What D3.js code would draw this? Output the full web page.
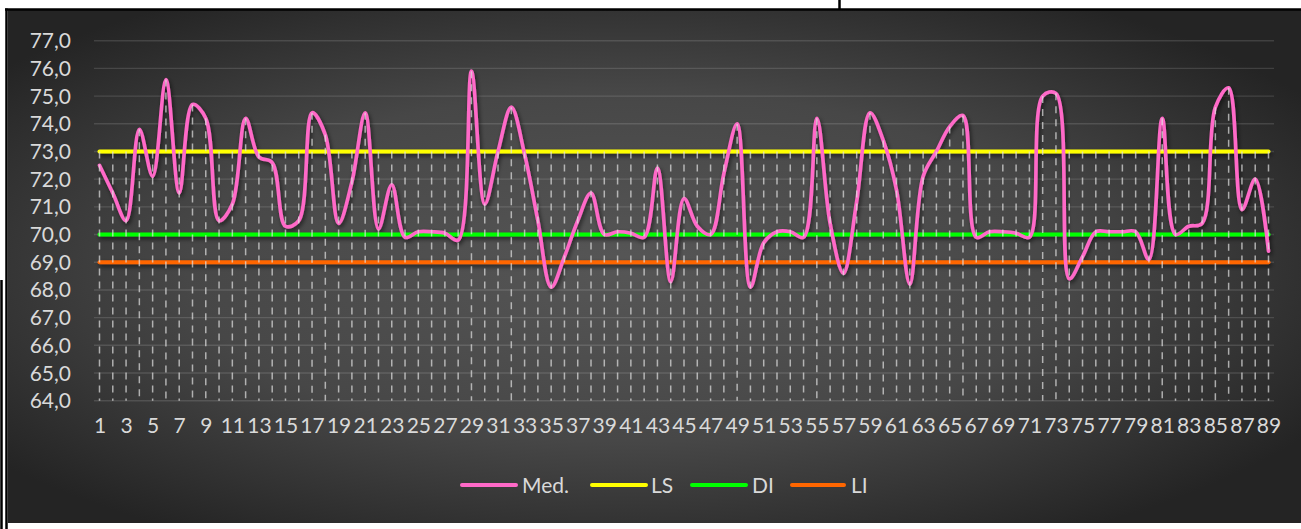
<!DOCTYPE html>
<html>
<head>
<meta charset="utf-8">
<script src="https://cdn.jsdelivr.net/npm/d3@7"></script>
<style>
  html, body { margin: 0; padding: 0; background: #fff; }
  svg { display: block; font-family: Lato, "Open Sans", sans-serif; }
</style>
</head>
<body>
<svg id="chart"></svg>
<script>
// categories 1..89
const categories = d3.range(1, 90);

// Med. values
const medValues = [
  72.5, 71.5, 70.5, 73.8, 72.1, 75.6, 71.5, 74.7, 74.2, 70.5,
  71.1, 74.2, 72.8, 72.6, 70.3, 70.5, 74.4, 73.6, 70.4, 71.9,
  74.4, 70.2, 71.8, 69.9, 70.1, 70.1, 70.05, 69.8, 75.9, 71.1,
  73.0, 74.6, 72.9, 70.5, 68.1, 69.2, 70.5, 71.5, 70.0, 70.1,
  70.05, 69.9, 72.4, 68.3, 71.3, 70.3, 70.0, 72.2, 74.0, 68.1,
  69.7, 70.1, 70.1, 69.9, 74.2, 70.4, 68.6, 71.2, 74.4, 73.4,
  71.6, 68.2, 72.1, 73.0, 73.9, 74.3, 69.9, 70.1, 70.1, 70.05,
  69.9, 75.0, 75.1, 68.4, 69.2, 70.1, 70.1, 70.1, 70.1, 69.1,
  74.2, 70.0, 70.3, 70.4, 74.6, 75.3, 70.9, 72.0, 69.4
];

// constant limit series
const lsValue = 73.0;
const diValue = 70.0;
const liValue = 69.0;

const yTicks = [64, 65, 66, 67, 68, 69, 70, 71, 72, 73, 74, 75, 76, 77];
const xTickLabels = categories.filter(d => d % 2 === 1);

const seriesNames = ["Med.", "LS", "DI", "LI"];
const seriesColors = ["#ff69c8", "#ffff00", "#00ff00", "#ff6600"];

const W = 1301, H = 529;
const svg = d3.select("#chart").attr("width", W).attr("height", H);

const defs = svg.append("defs");

// background gradient, lighter in the middle
const grad = defs.append("radialGradient")
    .attr("id", "bg")
    .attr("cx", "48%").attr("cy", "50%").attr("r", "62%");
grad.append("stop").attr("offset", "0%").attr("stop-color", "#565656");
grad.append("stop").attr("offset", "55%").attr("stop-color", "#474747");
grad.append("stop").attr("offset", "100%").attr("stop-color", "#242424");

// soft shadow under the lines
const shadow = defs.append("filter")
    .attr("id", "shadow")
    .attr("x", "-5%").attr("y", "-20%").attr("width", "110%").attr("height", "140%");
shadow.append("feDropShadow")
    .attr("dx", 1.5).attr("dy", 2.5)
    .attr("stdDeviation", 2)
    .attr("flood-color", "#000")
    .attr("flood-opacity", 0.6);

// chart area and frame
svg.append("rect")
    .attr("x", 8).attr("y", 10)
    .attr("width", W - 8).attr("height", 513)
    .attr("fill", "url(#bg)");

const frame = svg.append("g").attr("stroke", "#000").attr("stroke-width", 2.5);
frame.append("line").attr("x1", 5).attr("x2", W).attr("y1", 9.5).attr("y2", 9.5);
frame.append("line").attr("x1", 6.5).attr("x2", 6.5).attr("y1", 8.5).attr("y2", H);
frame.append("line").attr("x1", 1.5).attr("x2", 1.5).attr("y1", 280).attr("y2", H);
frame.append("line").attr("x1", 839.5).attr("x2", 839.5).attr("y1", 0).attr("y2", 10);

// scales
const x = d3.scalePoint()
    .domain(categories)
    .range([99.5, 1268.5]);

const y = d3.scaleLinear()
    .domain([64, 77])
    .range([400.7, 40.7]);

// horizontal gridlines
svg.append("g")
    .selectAll("line")
    .data(yTicks)
    .enter()
    .append("line")
    .attr("x1", 94).attr("x2", 1274)
    .attr("y1", d => y(d)).attr("y2", d => y(d))
    .attr("stroke", "rgba(255,255,255,0.13)")
    .attr("stroke-width", 1.4);

// y axis labels
const fmt = d => d.toFixed(1).replace(".", ",");
svg.append("g")
    .selectAll("text")
    .data(yTicks)
    .enter()
    .append("text")
    .attr("x", 71)
    .attr("y", d => y(d))
    .attr("dy", "0.36em")
    .attr("text-anchor", "end")
    .attr("fill", "#d9d9d9")
    .style("font-size", "21px")
    .text(fmt);

// x axis labels
const xAxis = svg.append("g")
    .attr("transform", "translate(0,417)")
    .call(d3.axisBottom(x).tickValues(xTickLabels).tickSize(0).tickPadding(0));
xAxis.select(".domain").remove();
xAxis.selectAll("text")
    .attr("fill", "#d9d9d9")
    .attr("dy", "0.75em")
    .style("font-size", "21px")
    .style("font-family", "Lato, 'Open Sans', sans-serif");

// constant lines
const limits = [
  { value: lsValue, color: seriesColors[1] },
  { value: diValue, color: seriesColors[2] },
  { value: liValue, color: seriesColors[3] }
];

const linesGroup = svg.append("g").attr("filter", "url(#shadow)");

linesGroup.selectAll(".limit")
    .data(limits.slice().reverse())
    .enter()
    .append("path")
    .attr("class", "limit")
    .attr("d", d => d3.line()
        .x(c => x(c))
        .y(() => y(d.value))(categories))
    .attr("fill", "none")
    .attr("stroke", d => d.color)
    .attr("stroke-width", 4)
    .attr("stroke-linecap", "round");

// Med. line (smoothed)
const medLine = d3.line()
    .x((d, i) => x(categories[i]))
    .y(d => y(d))
    .curve(d3.curveCatmullRom.alpha(0.5));

linesGroup.append("path")
    .datum(medValues)
    .attr("d", medLine)
    .attr("fill", "none")
    .attr("stroke", seriesColors[0])
    .attr("stroke-width", 3.6)
    .attr("stroke-linecap", "round")
    .attr("stroke-linejoin", "round");

// drop lines from the highest point down to the axis
svg.append("g")
    .selectAll("line")
    .data(categories)
    .enter()
    .append("line")
    .attr("x1", d => x(d)).attr("x2", d => x(d))
    .attr("y1", (d, i) => y(Math.max(medValues[i], lsValue)))
    .attr("y2", y(64))
    .attr("stroke", "rgba(225,225,225,0.7)")
    .attr("stroke-width", 1.5)
    .attr("stroke-dasharray", "7,6");

// legend
const legendItems = [
  { name: seriesNames[0], color: seriesColors[0], x1: 462, x2: 516, tx: 522 },
  { name: seriesNames[1], color: seriesColors[1], x1: 592, x2: 646, tx: 651 },
  { name: seriesNames[2], color: seriesColors[2], x1: 692, x2: 746, tx: 752 },
  { name: seriesNames[3], color: seriesColors[3], x1: 792, x2: 844, tx: 851 }
];

const legend = svg.append("g")
    .selectAll("g")
    .data(legendItems)
    .enter()
    .append("g");

legend.append("line")
    .attr("x1", d => d.x1).attr("x2", d => d.x2)
    .attr("y1", 485).attr("y2", 485)
    .attr("stroke", d => d.color)
    .attr("stroke-width", 4)
    .attr("stroke-linecap", "round");

legend.append("text")
    .attr("x", d => d.tx)
    .attr("y", 485)
    .attr("dy", "0.36em")
    .attr("fill", "#d9d9d9")
    .style("font-size", "21px")
    .text(d => d.name);
</script>
</body>
</html>
